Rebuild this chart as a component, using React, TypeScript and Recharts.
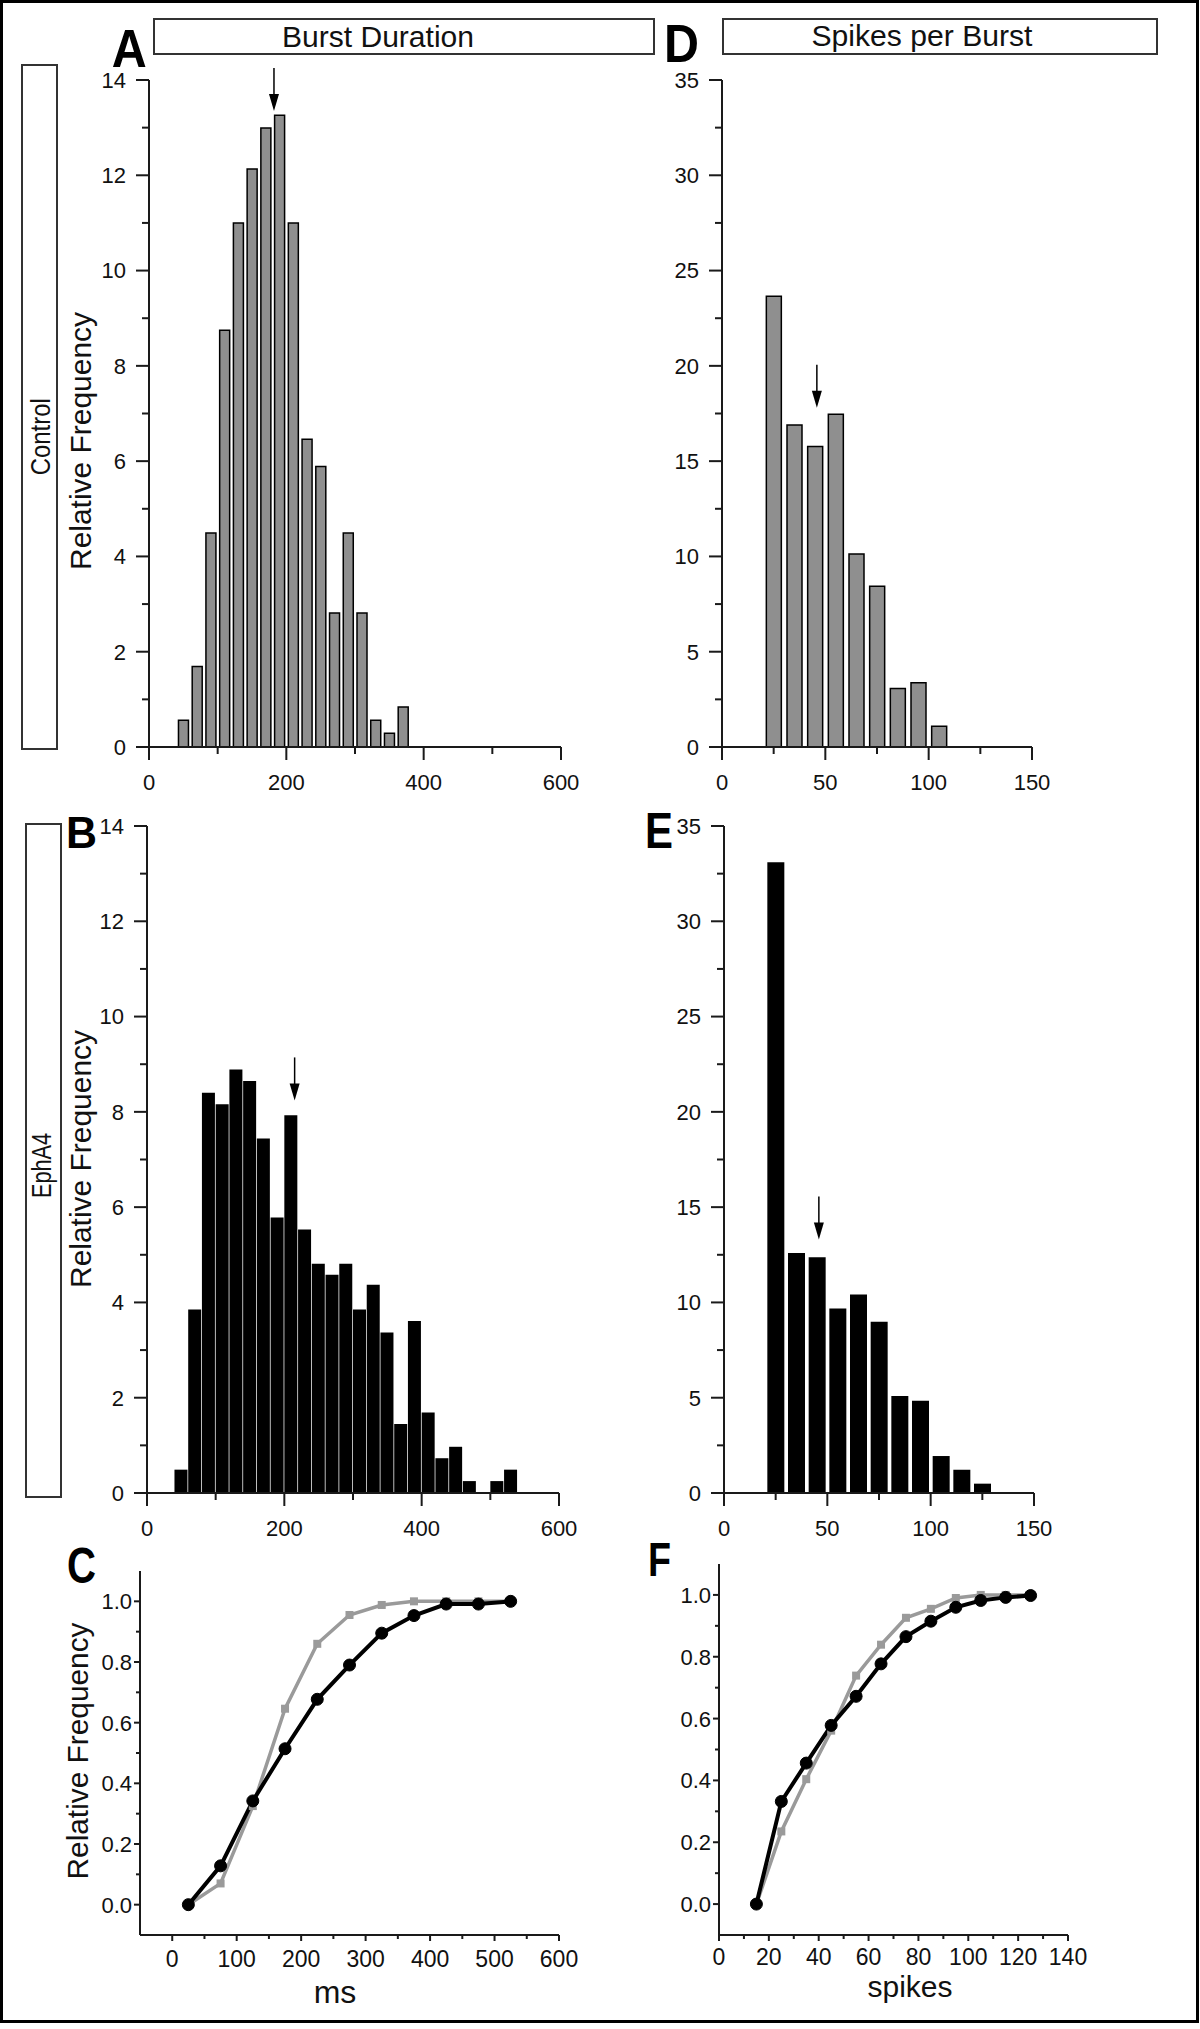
import React from 'react';
import { BarChart, Bar, LineChart, Line, XAxis, YAxis, ReferenceDot } from 'recharts';

// histogram bins (left edges) and relative frequencies (%)
const durationBins = [0, 20, 40, 60, 80, 100, 120, 140, 160, 180, 200, 220, 240, 260, 280, 300, 320, 340, 360, 380, 400, 420, 440, 460, 480, 500, 520, 540, 560, 580];
const controlDuration = [0, 0, 0.56, 1.69, 4.49, 8.75, 11.0, 12.13, 12.99, 13.26, 11.0, 6.46, 5.89, 2.81, 4.49, 2.81, 0.56, 0.29, 0.84, 0, 0, 0, 0, 0, 0, 0, 0, 0, 0, 0];
const ephA4Duration = [0, 0, 0.49, 3.85, 8.4, 8.16, 8.89, 8.65, 7.44, 5.78, 7.93, 5.53, 4.81, 4.58, 4.81, 3.85, 4.37, 3.37, 1.45, 3.61, 1.69, 0.73, 0.97, 0.25, 0, 0.25, 0.49, 0, 0, 0];

const spikeBins = [0, 10, 20, 30, 40, 50, 60, 70, 80, 90, 100, 110, 120, 130, 140];
const controlSpikes = [0, 0, 23.65, 16.9, 15.77, 17.46, 10.13, 8.44, 3.07, 3.37, 1.09, 0, 0, 0, 0];
const ephA4Spikes = [0, 0, 33.1, 12.6, 12.37, 9.68, 10.42, 8.98, 5.09, 4.84, 1.94, 1.22, 0.49, 0, 0];

// means (arrows): x position, arrow tip height
const controlDurationMean = { x: 182, tip: 13.35 };
const ephA4DurationMean = { x: 215, tip: 8.24 };
const controlSpikesMean = { x: 45.9, tip: 17.8 };
const ephA4SpikesMean = { x: 45.9, tip: 13.3 };

// cumulative distributions
const msPoints = [25, 75, 125, 175, 225, 275, 325, 375, 425, 475, 525];
const controlMsCdf = [0, 0.07, 0.325, 0.646, 0.86, 0.955, 0.988, 1.0, 1.0, 1.0, 1.0];
const ephA4MsCdf = [0, 0.128, 0.342, 0.514, 0.677, 0.79, 0.895, 0.953, 0.991, 0.991, 1.0];

const spikePoints = [15, 25, 35, 45, 55, 65, 75, 85, 95, 105, 115, 125];
const controlSpikeCdf = [0, 0.235, 0.404, 0.561, 0.739, 0.839, 0.926, 0.955, 0.99, 1.0, 1.0, 1.0];
const ephA4SpikeCdf = [0, 0.332, 0.456, 0.578, 0.672, 0.777, 0.865, 0.915, 0.96, 0.982, 0.992, 0.998];

// ticks
const durationTicks = [0, 100, 200, 300, 400, 500, 600];
const spikeTicks = [0, 25, 50, 75, 100, 125, 150];
const durationFreqTicks = [0, 1, 2, 3, 4, 5, 6, 7, 8, 9, 10, 11, 12, 13, 14];
const spikeFreqTicks = [0, 2.5, 5, 7.5, 10, 12.5, 15, 17.5, 20, 22.5, 25, 27.5, 30, 32.5, 35];
const msTicks = [0, 50, 100, 150, 200, 250, 300, 350, 400, 450, 500, 550, 600];
const spikeCountTicks = [0, 10, 20, 30, 40, 50, 60, 70, 80, 90, 100, 110, 120, 130, 140];
const cdfTicks = [0, 0.1, 0.2, 0.3, 0.4, 0.5, 0.6, 0.7, 0.8, 0.9, 1.0];

const FONT = '"Liberation Sans", Arial, Helvetica, sans-serif';
const AXIS = '#1a1a1a';
const YW = 80;
const XH = 60;
const MT = 24;
const MR = 30;

type Plot = { x: number; y: number; w: number; h: number };

type TickOpts = {
  axis: 'x' | 'y';
  majorEvery: number;
  major: number;
  minor: number;
  gap: number;
  fontSize: number;
  decimals?: number;
};

const makeTick = (o: TickOpts) => (props: any) => {
  const { x, y, payload } = props;
  const v = payload.value as number;
  const r = v / o.majorEvery;
  const isMajor = Math.abs(r - Math.round(r)) < 1e-6;
  const len = isMajor ? o.major : o.minor;
  const label = o.decimals != null ? v.toFixed(o.decimals) : String(v);
  if (o.axis === 'x') {
    return (
      <g>
        <line x1={x} x2={x} y1={y} y2={y + len} stroke={AXIS} strokeWidth={2} />
        {isMajor && (
          <text x={x} y={y + o.gap} textAnchor="middle" fontSize={o.fontSize} fontFamily={FONT} fill="#111">
            {label}
          </text>
        )}
      </g>
    );
  }
  return (
    <g>
      <line x1={x - len} x2={x} y1={y} y2={y} stroke={AXIS} strokeWidth={2} />
      {isMajor && (
        <text x={x - o.gap} y={y} dy="0.36em" textAnchor="end" fontSize={o.fontSize} fontFamily={FONT} fill="#111">
          {label}
        </text>
      )}
    </g>
  );
};

const MeanArrow = (props: any) => {
  const { cx, cy } = props;
  if (cx == null || cy == null) return <g />;
  return (
    <g>
      <line x1={cx} x2={cx} y1={cy - 43} y2={cy - 15} stroke="#000" strokeWidth={1.5} />
      <polygon points={`${cx - 5},${cy - 17} ${cx + 5},${cy - 17} ${cx},${cy}`} fill="#000" />
    </g>
  );
};

const SquareDot = (props: any) => {
  const { cx, cy, index } = props;
  if (cx == null || cy == null) return <g key={`sq-${index}`} />;
  return <rect key={`sq-${index}`} x={cx - 4} y={cy - 4} width={8} height={8} fill="#9a9a9a" />;
};

const boxStyle = (p: Plot): React.CSSProperties => ({
  position: 'absolute',
  left: p.x - YW,
  top: p.y - MT,
  width: p.w + YW + MR,
  height: p.h + MT + XH,
});

interface HistProps {
  plot: Plot;
  bins: number[];
  binWidth: number;
  values: number[];
  xDomain: [number, number];
  xTicks: number[];
  xMajor: number;
  yDomain: [number, number];
  yTicks: number[];
  yMajor: number;
  fill: string;
  stroke: string;
  strokeWidth: number;
  barSize: number;
  mean: { x: number; tip: number };
}

const Histogram: React.FC<HistProps> = ({ plot, bins, binWidth, values, xDomain, xTicks, xMajor, yDomain, yTicks, yMajor, fill, stroke, strokeWidth, barSize, mean }) => {
  // bar centred on the middle of its bin; empty bins are left out
  const rows = bins
    .map((b, i) => ({ mid: b + binWidth / 2, freq: values[i] }))
    .filter((r) => r.freq > 0);
  const W = plot.w + YW + MR;
  const H = plot.h + MT + XH;
  return (
    <div style={boxStyle(plot)}>
      <BarChart width={W} height={H} data={rows} margin={{ top: MT, right: MR, bottom: 0, left: 0 }} barCategoryGap={0} barGap={0}>
        <XAxis
          dataKey="mid"
          type="number"
          domain={xDomain}
          ticks={xTicks}
          interval={0}
          allowDataOverflow
          height={XH}
          tickSize={0}
          tickMargin={0}
          tickLine={false}
          axisLine={{ stroke: AXIS, strokeWidth: 2 }}
          tick={makeTick({ axis: 'x', majorEvery: xMajor, major: 13, minor: 7, gap: 43, fontSize: 22 })}
        />
        <YAxis
          type="number"
          domain={yDomain}
          ticks={yTicks}
          interval={0}
          allowDataOverflow
          width={YW}
          tickSize={0}
          tickMargin={0}
          tickLine={false}
          axisLine={{ stroke: AXIS, strokeWidth: 2 }}
          tick={makeTick({ axis: 'y', majorEvery: yMajor, major: 13, minor: 7, gap: 23, fontSize: 22 })}
        />
        <Bar dataKey="freq" fill={fill} stroke={stroke} strokeWidth={strokeWidth} barSize={barSize} isAnimationActive={false} />
        <ReferenceDot x={mean.x} y={mean.tip} r={1} shape={MeanArrow} ifOverflow="visible" />
      </BarChart>
    </div>
  );
};

interface CdfProps {
  plot: Plot;
  xs: number[];
  control: number[];
  ephA4: number[];
  xDomain: [number, number];
  xTicks: number[];
  xMajor: number;
  xGap: number;
}

const CdfChart: React.FC<CdfProps> = ({ plot, xs, control, ephA4, xDomain, xTicks, xMajor, xGap }) => {
  const rows = xs.map((x, i) => ({ x, control: control[i], ephA4: ephA4[i] }));
  const W = plot.w + YW + MR;
  const H = plot.h + MT + XH;
  return (
    <div style={boxStyle(plot)}>
      <LineChart width={W} height={H} data={rows} margin={{ top: MT, right: MR, bottom: 0, left: 0 }}>
        <XAxis
          dataKey="x"
          type="number"
          domain={xDomain}
          ticks={xTicks}
          interval={0}
          allowDataOverflow
          height={XH}
          tickSize={0}
          tickMargin={0}
          tickLine={false}
          axisLine={{ stroke: AXIS, strokeWidth: 2 }}
          tick={makeTick({ axis: 'x', majorEvery: xMajor, major: 6, minor: 4, gap: xGap, fontSize: 23 })}
        />
        <YAxis
          type="number"
          domain={[-0.1, 1.1]}
          ticks={cdfTicks}
          interval={0}
          allowDataOverflow
          width={YW}
          tickSize={0}
          tickMargin={0}
          tickLine={false}
          axisLine={{ stroke: AXIS, strokeWidth: 2 }}
          tick={makeTick({ axis: 'y', majorEvery: 0.2, major: 6, minor: 4, gap: 8, fontSize: 22, decimals: 1 })}
        />
        <Line type="linear" dataKey="control" stroke="#9a9a9a" strokeWidth={3.5} dot={SquareDot} activeDot={false} isAnimationActive={false} />
        <Line type="linear" dataKey="ephA4" stroke="#000" strokeWidth={4} dot={{ r: 6, fill: '#000', stroke: '#000', strokeWidth: 1 }} activeDot={false} isAnimationActive={false} />
      </LineChart>
    </div>
  );
};

const plotA: Plot = { x: 149, y: 80, w: 412, h: 667 };
const plotD: Plot = { x: 722, y: 80, w: 310, h: 667 };
const plotB: Plot = { x: 147, y: 826, w: 412, h: 667 };
const plotE: Plot = { x: 724, y: 826, w: 310, h: 667 };
const plotC: Plot = { x: 140, y: 1571, w: 419, h: 364 };
const plotF: Plot = { x: 719, y: 1564, w: 349, h: 371 };

const Letter = ({ x, y, text, size, len }: { x: number; y: number; text: string; size: number; len: number }) => (
  <text x={x} y={y} fontSize={size} fontWeight={900} fontFamily={FONT} textLength={len} lengthAdjust="spacingAndGlyphs" fill="#000">
    {text}
  </text>
);

const VLabel = ({ x, y, text, size, len }: { x: number; y: number; text: string; size: number; len: number }) => (
  <text transform={`translate(${x},${y}) rotate(-90)`} textAnchor="middle" fontSize={size} fontFamily={FONT} textLength={len} lengthAdjust="spacingAndGlyphs" fill="#111">
    {text}
  </text>
);

export default function App() {
  return (
    <div style={{ position: 'absolute', left: 0, top: 0, width: 1200, height: 2029, background: '#fff', fontFamily: FONT }}>
      <svg width={1200} height={2029} style={{ position: 'absolute', left: 0, top: 0 }}>
        <rect x={1.5} y={1.5} width={1196} height={2020} fill="none" stroke="#000" strokeWidth={3} />
        {/* column headers */}
        <rect x={154} y={19} width={500} height={35} fill="#fff" stroke="#333" strokeWidth={2} />
        <text x={378} y={46.5} textAnchor="middle" fontSize={29} fontFamily={FONT} textLength={192} lengthAdjust="spacingAndGlyphs" fill="#111">Burst Duration</text>
        <rect x={723} y={19} width={434} height={35} fill="#fff" stroke="#333" strokeWidth={2} />
        <text x={922} y={45.5} textAnchor="middle" fontSize={29} fontFamily={FONT} textLength={221} lengthAdjust="spacingAndGlyphs" fill="#111">Spikes per Burst</text>
        {/* row headers */}
        <rect x={22} y={65} width={35} height={684} fill="#fff" stroke="#333" strokeWidth={2} />
        <VLabel x={49.5} y={436.7} text="Control" size={28} len={77} />
        <rect x={26} y={824} width={35} height={673} fill="#fff" stroke="#333" strokeWidth={2} />
        <VLabel x={51} y={1165.5} text="EphA4" size={28} len={65} />
        {/* y axis titles */}
        <VLabel x={91} y={441} text="Relative Frequency" size={30} len={258} />
        <VLabel x={91} y={1159} text="Relative Frequency" size={30} len={258} />
        <VLabel x={88} y={1751} text="Relative Frequency" size={30} len={257} />
        {/* x axis titles */}
        <text x={335} y={2003} textAnchor="middle" fontSize={32} fontFamily={FONT} fill="#111">ms</text>
        <text x={910} y={1997} textAnchor="middle" fontSize={30} fontFamily={FONT} fill="#111">spikes</text>
        {/* panel letters */}
        <Letter x={111.7} y={66.7} text="A" size={53} len={35} />
        <Letter x={664} y={61.7} text="D" size={53} len={35} />
        <Letter x={66} y={848} text="B" size={45} len={31} />
        <Letter x={645} y={848} text="E" size={50} len={28} />
        <Letter x={67} y={1583} text="C" size={50} len={29} />
        <Letter x={648} y={1576} text="F" size={48} len={23} />
      </svg>

      <Histogram plot={plotA} bins={durationBins} binWidth={20} values={controlDuration} xDomain={[0, 600]} xTicks={durationTicks} xMajor={200}
        yDomain={[0, 14]} yTicks={durationFreqTicks} yMajor={2} fill="#8f8f8f" stroke="#000" strokeWidth={1.5} barSize={10} mean={controlDurationMean} />
      <Histogram plot={plotD} bins={spikeBins} binWidth={10} values={controlSpikes} xDomain={[0, 150]} xTicks={spikeTicks} xMajor={50}
        yDomain={[0, 35]} yTicks={spikeFreqTicks} yMajor={5} fill="#8f8f8f" stroke="#000" strokeWidth={1.5} barSize={15} mean={controlSpikesMean} />
      <Histogram plot={plotB} bins={durationBins} binWidth={20} values={ephA4Duration} xDomain={[0, 600]} xTicks={durationTicks} xMajor={200}
        yDomain={[0, 14]} yTicks={durationFreqTicks} yMajor={2} fill="#000" stroke="none" strokeWidth={0} barSize={13} mean={ephA4DurationMean} />
      <Histogram plot={plotE} bins={spikeBins} binWidth={10} values={ephA4Spikes} xDomain={[0, 150]} xTicks={spikeTicks} xMajor={50}
        yDomain={[0, 35]} yTicks={spikeFreqTicks} yMajor={5} fill="#000" stroke="none" strokeWidth={0} barSize={17} mean={ephA4SpikesMean} />

      <CdfChart plot={plotC} xs={msPoints} control={controlMsCdf} ephA4={ephA4MsCdf} xDomain={[-50, 600]} xTicks={msTicks} xMajor={100} xGap={32} />
      <CdfChart plot={plotF} xs={spikePoints} control={controlSpikeCdf} ephA4={ephA4SpikeCdf} xDomain={[0, 140]} xTicks={spikeCountTicks} xMajor={20} xGap={30} />
    </div>
  );
}
